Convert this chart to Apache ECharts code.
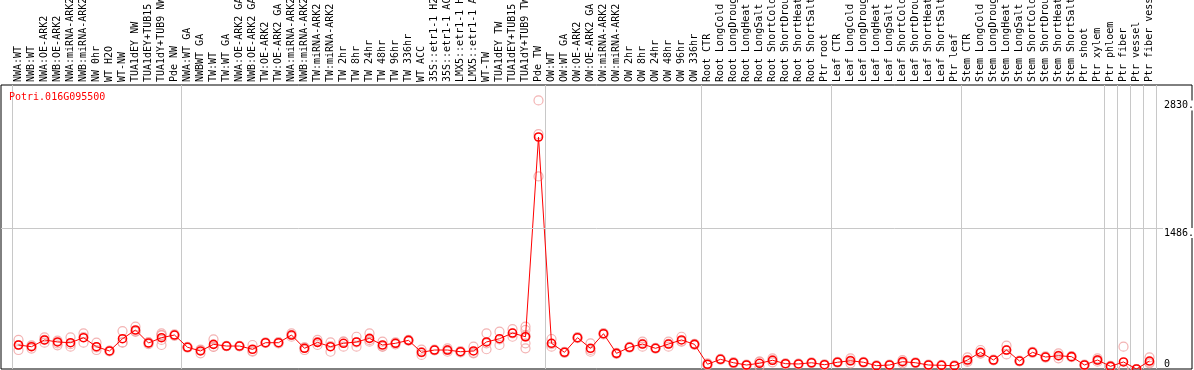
<!DOCTYPE html>
<html>
<head>
<meta charset="utf-8">
<script src="https://cdn.jsdelivr.net/npm/echarts@6/dist/echarts.min.js"></script>
<style>
html,body{margin:0;padding:0;background:#fff;}
#chart{width:1194px;height:370px;}
</style>
</head>
<body>
<div id="chart"></div>
<script>
const geneName = 'Potri.016G095500';

const categories = [
  'NWA:WT','NWB:WT','NWA:OE-ARK2','NWB:OE-ARK2','NWA:miRNA-ARK2','NWB:miRNA-ARK2','NW 0hr','WT H2O','WT-NW','TUA1dEY NW','TUA1dEY+TUB15 NW','TUA1dY+TUB9 NW','Pde NW',
  'NWA:WT GA','NWBWT GA','TW:WT','TW:WT GA','NWA:OE-ARK2 GA','NWB:OE-ARK2 GA','TW:OE-ARK2','TW:OE-ARK2 GA','NWA:miRNA-ARK2 GA','NWB:miRNA-ARK2 GA','TW:miRNA-ARK2','TW:miRNA-ARK2 GA','TW 2hr','TW 8hr','TW 24hr','TW 48hr','TW 96hr','TW 336hr','WT ACC','35S::etr1-1 H2O','35S::etr1-1 ACC','LMX5::etr1-1 H2O','LMX5::etr1-1 ACC','WT-TW','TUA1dEY TW','TUA1dEY+TUB15 TW','TUA1dY+TUB9 TW','Pde TW',
  'OW:WT','OW:WT GA','OW:OE-ARK2','OW:OE-ARK2 GA','OW:miRNA-ARK2','OW:miRNA-ARK2 GA','OW 2hr','OW 8hr','OW 24hr','OW 48hr','OW 96hr','OW 336hr',
  'Root CTR','Root LongCold','Root LongDrought','Root LongHeat','Root LongSalt','Root ShortCold','Root ShortDrought','Root ShortHeat','Root ShortSalt','Ptr root',
  'Leaf CTR','Leaf LongCold','Leaf LongDrought','Leaf LongHeat','Leaf LongSalt','Leaf ShortCold','Leaf ShortDrought','Leaf ShortHeat','Leaf ShortSalt','Ptr leaf',
  'Stem CTR','Stem LongCold','Stem LongDrought','Stem LongHeat','Stem LongSalt','Stem ShortCold','Stem ShortDrought','Stem ShortHeat','Stem ShortSalt','Ptr shoot','Ptr xylem',
  'Ptr phloem','Ptr fiber','Ptr vessel','Ptr fiber vessel'
];

// index of first category of each group (vertical separators)
const groupStarts = [0, 13, 41, 53, 63, 73, 84, 85, 86, 87];

const meanValues = [
  253,235,306,285,277,330,235,190,319,411,274,330,358,
  229,190,260,242,242,208,277,277,358,218,281,235,271,285,323,253,271,302,176,200,200,182,190,285,319,379,340,2445,
  271,176,330,218,372,165,229,263,218,263,306,260,
  50,102,66,42,60,92,56,53,66,45,
  71,87,71,35,42,77,66,42,39,35,
  95,176,95,200,84,176,126,140,130,42,95,
  28,74,0,84
];

const replicateValues = [
  [306,200,253],[250,215,240],[334,277,306],[270,250,300],[334,235,262],[376,277,337],[277,200,228],[190,185,195],[400,277,280],[446,393,394],[280,262,280],[376,358,306,253,357],[358,350,366],
  [229,225,233],[165,200,205],[313,235,232],[242,240,244],[242,245,239],[253,182,189],[277,275,279],[277,270,284],[376,340,358],[200,225,229],[306,253,284],[281,182,242],[288,235,290],[340,235,280],[376,288,305],[288,235,236],[281,260,272],[302,298,306],[148,176,204],[200,195,205],[182,200,218],[182,175,189],[235,165,170],[376,208,271],[393,253,311],[421,340,376],[446,411,340,271,218,354],[2830,2030,2475],
  [316,235,262],[176,170,182],[330,325,335],[271,182,201],[372,365,379],[165,160,170],[229,225,233],[288,235,266],[218,214,222],[288,235,266],[340,288,290],[260,255,265],
  [50,40,60],[102,98,106],[66,60,72],[42,38,46],[77,24,79],[113,70,93],[56,52,60],[53,49,57],[66,62,70],[45,41,49],
  [71,67,75],[113,60,88],[71,66,76],[35,31,39],[42,38,46],[77,60,94],[66,62,70],[42,38,46],[39,35,43],[35,31,39],
  [123,75,87],[200,165,163],[95,91,99],[246,200,154],[84,80,88],[176,170,182],[126,120,132],[165,113,142],[130,125,135],[42,38,46],[113,77,95],
  [28,24,32],[235,0,0],[0,0,0],[123,60,69]
];

const yTickValues = [1486, 2830];
const yZeroTick = [0];
const yGridValue = 1486;
const yMin = 0, yMax = 2993;

const mono = 'DejaVu Sans Mono';

const scatterData = [];
replicateValues.forEach((arr, i) => arr.forEach(v => scatterData.push([i, v])));

const chart = echarts.init(document.getElementById('chart'), null, {renderer: 'canvas'});
chart.setOption({
  animation: false,
  backgroundColor: '#fff',
  title: {
    text: geneName, left: 4, top: 87, padding: 5,
    textStyle: {color: '#ff0000', fontFamily: mono, fontSize: 10, fontWeight: 'normal'}
  },
  grid: [
    {left: 12, right: 38, top: 85, bottom: 1, show: false, outerBoundsMode: 'none', containLabel: false},
    {left: 1, right: 2, top: 85, bottom: 1, show: true, borderColor: '#000', borderWidth: 1, backgroundColor: 'transparent', outerBoundsMode: 'none', containLabel: false}
  ],
  xAxis: [
    {
      type: 'category', gridIndex: 0, position: 'top', data: categories, boundaryGap: true,
      axisLine: {show: false}, axisTick: {show: false},
      axisLabel: {interval: 0, rotate: 90, margin: 3, fontFamily: mono, fontSize: 10, color: '#000', hideOverlap: false},
      splitLine: {show: true, interval: (idx) => groupStarts.indexOf(idx) >= 0, lineStyle: {color: '#c8c8c8', width: 1}}
    },
    {type: 'value', gridIndex: 1, min: 0, max: 1, show: false}
  ],
  yAxis: [
    {
      type: 'value', gridIndex: 0, position: 'right', min: yMin, max: yMax,
      axisLine: {show: false}, axisTick: {show: false}, splitLine: {show: false}, z: 10,
      axisLabel: {customValues: yTickValues, margin: 7, align: 'left', verticalAlign: 'top',
        fontFamily: mono, fontSize: 10, color: '#000', backgroundColor: '#fff', padding: [0, 0, 0, 1],
        formatter: v => v + '.'}
    },
    {
      type: 'value', gridIndex: 0, position: 'right', min: yMin, max: yMax,
      axisLine: {show: false}, axisTick: {show: false}, splitLine: {show: false},
      axisLabel: {customValues: yZeroTick, margin: 8, align: 'left', verticalAlign: 'bottom',
        fontFamily: mono, fontSize: 10, color: '#000', formatter: v => String(v)}
    },
    {type: 'value', gridIndex: 1, min: yMin, max: yMax, show: false}
  ],
  series: [
    {
      type: 'line', xAxisIndex: 1, yAxisIndex: 2, data: [], z: 0, silent: true,
      markLine: {symbol: 'none', silent: true, label: {show: false},
        lineStyle: {color: '#c8c8c8', type: 'solid', width: 1},
        data: [{yAxis: yGridValue}]}
    },
    {
      type: 'scatter', xAxisIndex: 0, yAxisIndex: 0, data: scatterData, z: 2,
      symbol: 'circle', symbolSize: 9,
      itemStyle: {color: 'rgba(0,0,0,0)', borderColor: '#f0a0a0', borderWidth: 1.2}
    },
    {
      type: 'line', xAxisIndex: 0, yAxisIndex: 0, data: meanValues, z: 3,
      symbol: 'circle', symbolSize: 8, showAllSymbol: true,
      lineStyle: {color: '#ff0000', width: 1},
      itemStyle: {color: 'rgba(0,0,0,0)', borderColor: '#ff0000', borderWidth: 1.6}
    }
  ]
});
</script>
</body>
</html>
